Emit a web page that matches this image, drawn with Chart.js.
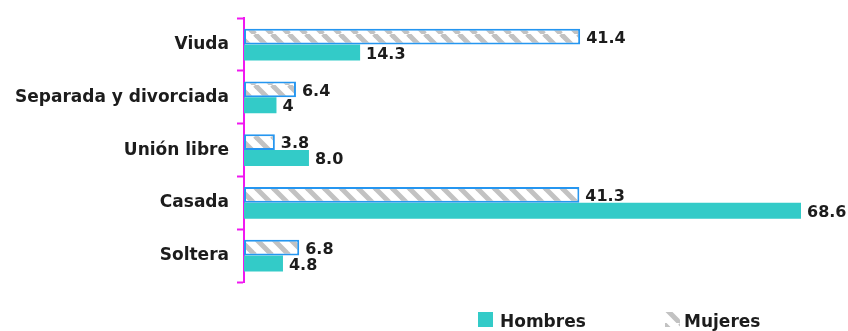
<!DOCTYPE html>
<html>
<head>
<meta charset="utf-8">
<script src="https://cdn.jsdelivr.net/npm/chart.js@4.4.1/dist/chart.umd.min.js"></script>
<style>
  html, body { margin: 0; padding: 0; background: #fff; }
  #wrap { position: relative; width: 848px; height: 331px; }
</style>
</head>
<body>
<div id="wrap"><canvas id="myChart" width="848" height="331"></canvas></div>
<script>
// Estado conyugal, porcentajes por sexo
const categorias = ['Viuda', 'Separada y divorciada', 'Unión libre', 'Casada', 'Soltera'];
const mujeres = ['41.4', '6.4', '3.8', '41.3', '6.8'];
const hombres = ['14.3', '4', '8.0', '68.6', '4.8'];

const TEAL = '#33cbc8';
const BLUE = '#2596f0';
const MAGENTA = '#f018f0';
const TEXT = '#1c1c1c';

// Gray diagonal hatch for the Mujeres bars
function makeHatch() {
    const s = 17;
    const c = document.createElement('canvas');
    c.width = s; c.height = s;
    const g = c.getContext('2d');
    g.fillStyle = '#fff';
    g.fillRect(0, 0, s, s);
    g.strokeStyle = '#c2c2c2';
    g.lineWidth = 5;
    for (let k = -1; k <= 1; k++) {
        g.beginPath();
        g.moveTo(k * s, 0);
        g.lineTo(k * s + s, s);
        g.stroke();
    }
    return g.createPattern(c, 'repeat');
}
const hatch = makeHatch();

// Value text at the end of every bar + legend at the bottom
const labelsPlugin = {
    id: 'barLabels',
    afterDatasetsDraw(chart) {
        const ctx = chart.ctx;
        ctx.save();
        ctx.font = 'bold 16px "DejaVu Sans"';
        ctx.fillStyle = TEXT;
        ctx.textAlign = 'left';
        ctx.textBaseline = 'middle';
        chart.data.datasets.forEach((ds, i) => {
            chart.getDatasetMeta(i).data.forEach((bar, j) => {
                ctx.fillText(ds.texts[j], bar.x + 6, bar.y + 2);
            });
        });
        ctx.restore();
    },
    afterDraw(chart) {
        const ctx = chart.ctx;
        ctx.save();
        ctx.font = 'bold 17px "DejaVu Sans"';
        ctx.fillStyle = TEAL;
        ctx.fillRect(478, 312, 15, 15);
        ctx.fillStyle = hatch;
        ctx.fillRect(665, 312, 15, 15);
        ctx.fillStyle = TEXT;
        ctx.textBaseline = 'alphabetic';
        ctx.fillText('Hombres', 500, 327);
        ctx.fillText('Mujeres', 684, 327);
        ctx.restore();
    }
};

const ctx = document.getElementById('myChart').getContext('2d');
const chart = new Chart(ctx, {
    type: 'bar',
    data: {
        labels: categorias,
        datasets: [
            {
                label: 'Mujeres',
                data: mujeres.map(Number),
                texts: mujeres,
                backgroundColor: hatch,
                borderColor: BLUE,
                borderWidth: 2,
                borderSkipped: false
            },
            {
                label: 'Hombres',
                data: hombres.map(Number),
                texts: hombres,
                backgroundColor: TEAL,
                borderWidth: 0
            }
        ]
    },
    options: {
        indexAxis: 'y',
        responsive: false,
        animation: false,
        layout: { padding: { top: 14, bottom: 49, left: 0, right: 47 } },
        datasets: { bar: { categoryPercentage: 0.6, barPercentage: 1 } },
        plugins: {
            legend: { display: false },
            tooltip: { enabled: false }
        },
        scales: {
            x: { display: false, min: 0, max: 68.6 },
            y: {
                afterFit(scale) { scale.width = 244; },
                grid: {
                    offset: true,
                    drawOnChartArea: false,
                    drawTicks: true,
                    tickLength: 7,
                    tickWidth: 2,
                    color: MAGENTA
                },
                border: { color: MAGENTA, width: 2 },
                ticks: {
                    padding: 8,
                    color: TEXT,
                    font: { family: 'DejaVu Sans', size: 17, weight: 'bold' }
                }
            }
        }
    },
    plugins: [labelsPlugin]
});
</script>
</body>
</html>
